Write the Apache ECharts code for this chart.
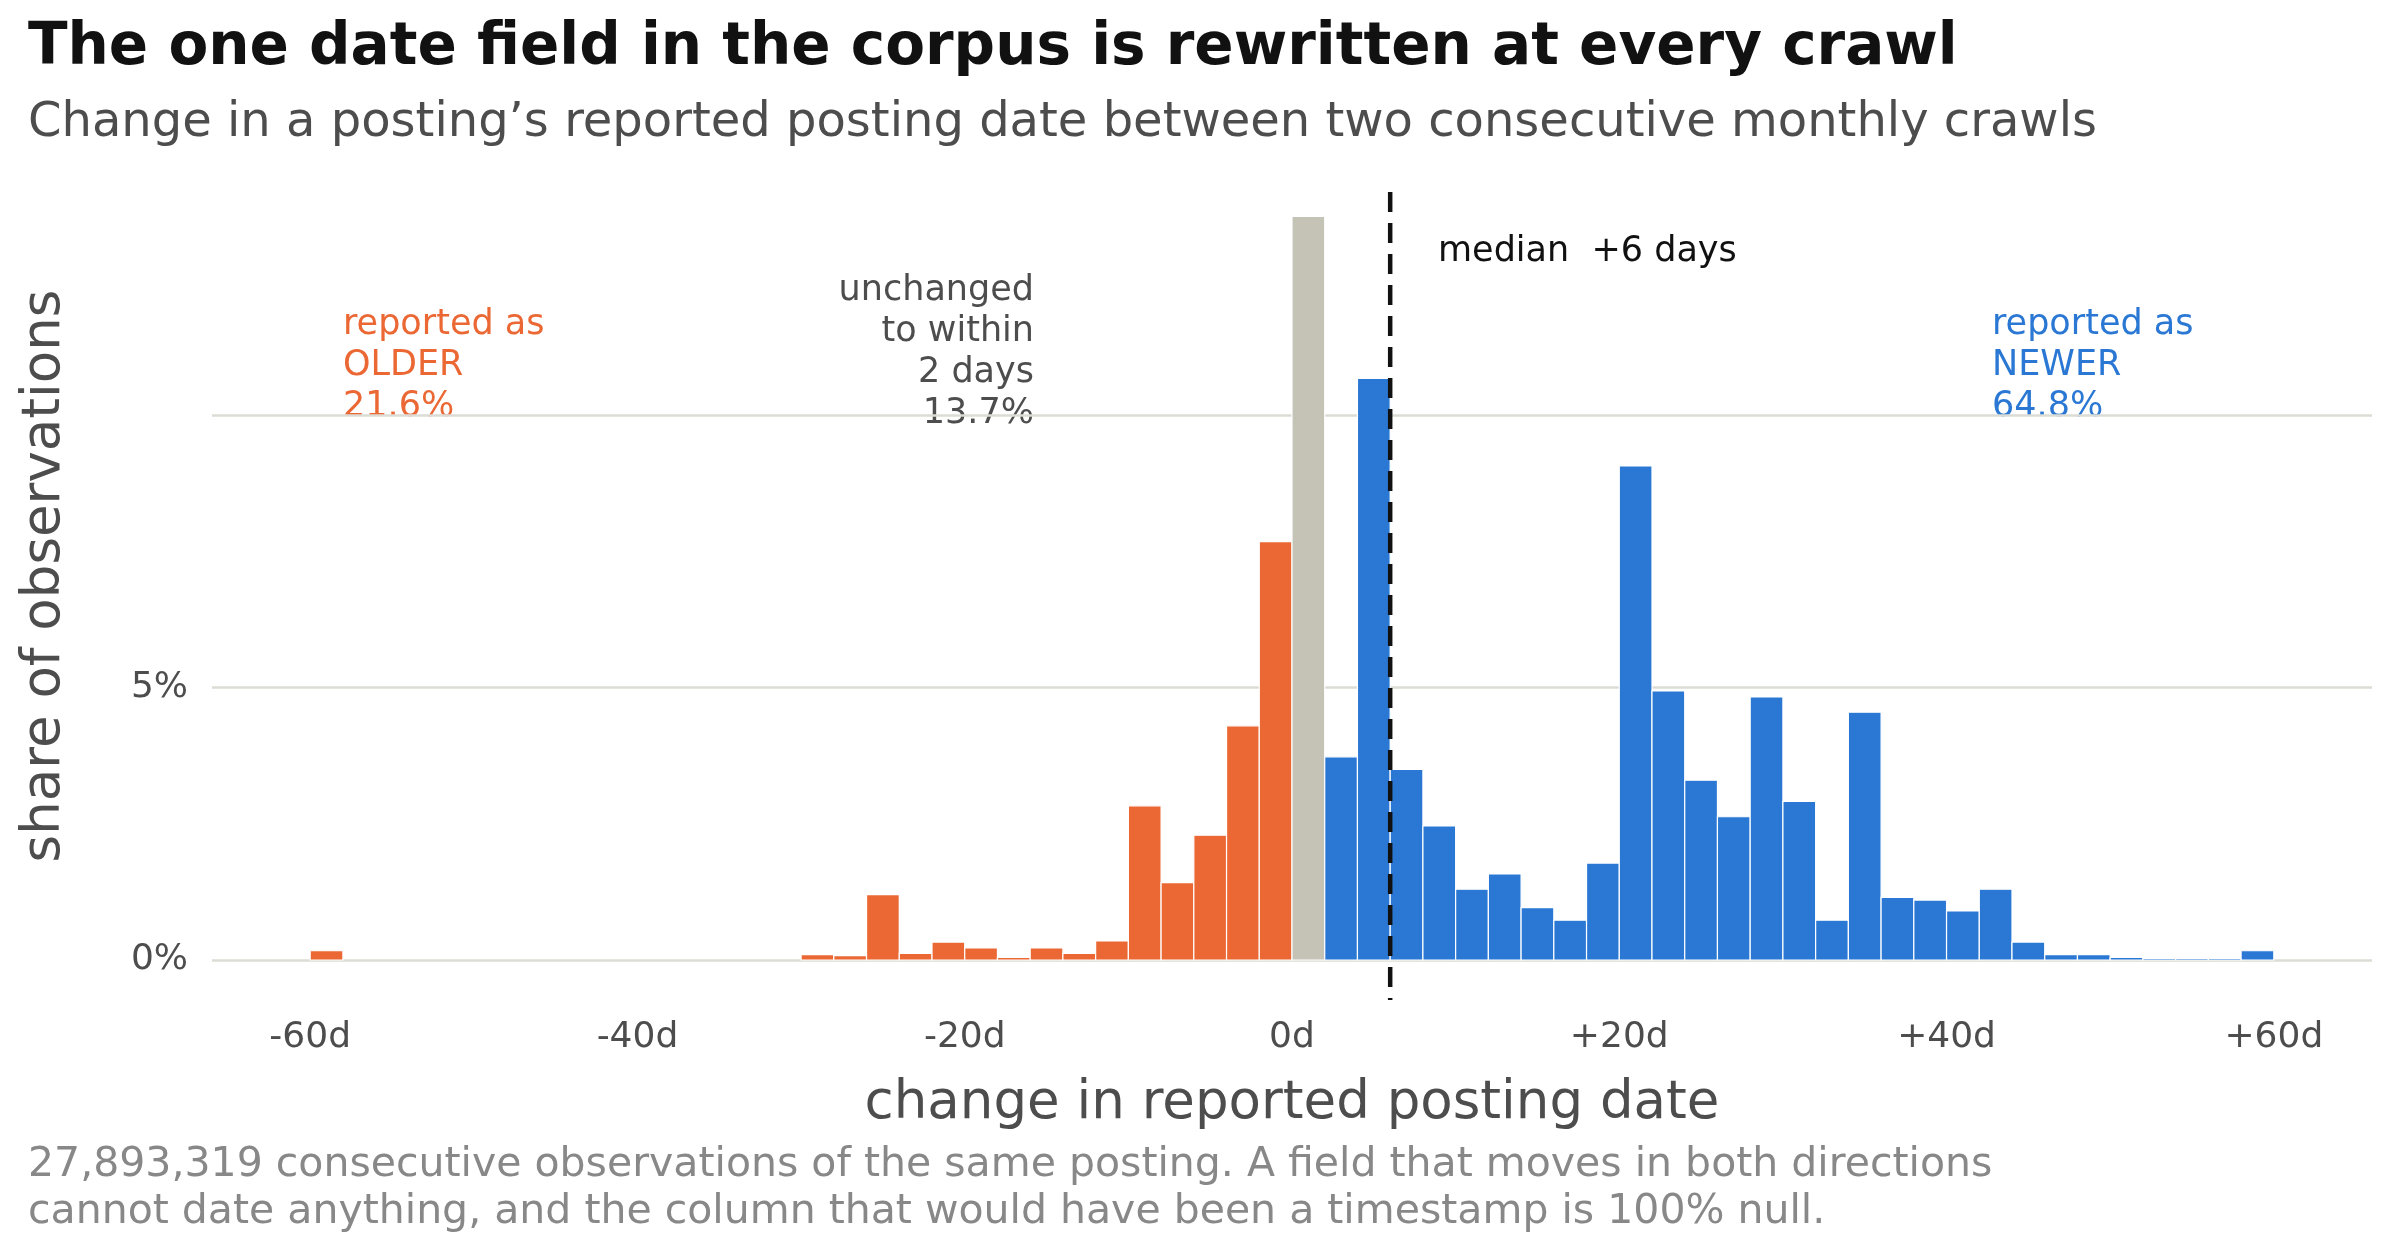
<!DOCTYPE html>
<html>
<head>
<meta charset="utf-8">
<script src="https://cdn.jsdelivr.net/npm/echarts@6/dist/echarts.min.js"></script>
<style>
  html, body { margin: 0; padding: 0; background: #fff; }
  #chart { width: 2400px; height: 1260px; }
</style>
</head>
<body>
<div id="chart"></div>
<script>
// bin starts (days), each bin 2 days wide
var olderStarts = [-60, -30, -28, -26, -24, -22, -20, -18, -16, -14, -12, -10, -8, -6, -4, -2];
var olderShare  = [0.17, 0.1, 0.08, 1.2, 0.12, 0.33, 0.22, 0.05, 0.22, 0.12, 0.35, 2.83, 1.42, 2.29, 4.3, 7.68];
var sameStarts = [0];
var sameShare  = [13.65];
var newerStarts = [2, 4, 6, 8, 10, 12, 14, 16, 18, 20, 22, 24, 26, 28, 30, 32, 34, 36, 38, 40, 42, 44, 46, 48, 50, 52, 54, 56, 58];
var newerShare  = [3.73, 10.68, 3.5, 2.46, 1.3, 1.58, 0.96, 0.73, 1.78, 9.07, 4.94, 3.3, 2.63, 4.83, 2.91, 0.73, 4.55, 1.15, 1.1, 0.9, 1.3, 0.33, 0.1, 0.1, 0.05, 0.03, 0.03, 0.03, 0.17];
var binWidth = 2;
var medianDays = 6;
var xTicks = [-60, -40, -20, 0, 20, 40, 60];
var yTicks = [0, 5, 10];

var GREY_TEXT = '#4d4d4d';
var FONT = 'DejaVu Sans';

function pairs(starts, vals) {
    var out = [];
    for (var i = 0; i < starts.length; i++) out.push([starts[i], vals[i]]);
    return out;
}

function renderBar(params, api) {
    var x0 = api.value(0);
    var v = api.value(1);
    var p0 = api.coord([x0, v]);
    var p1 = api.coord([x0 + binWidth, 0]);
    return {
        type: 'rect',
        shape: { x: p0[0], y: p0[1], width: p1[0] - p0[0], height: p1[1] - p0[1] },
        style: { fill: api.visual('color'), stroke: '#fff', lineWidth: 1.2 }
    };
}

function barSeries(name, starts, vals, color) {
    return {
        name: name,
        type: 'custom',
        renderItem: renderBar,
        itemStyle: { color: color },
        encode: { x: 0, y: 1 },
        data: pairs(starts, vals),
        silent: true
    };
}

var chart = echarts.init(document.getElementById('chart'));
var option = {
    backgroundColor: '#fff',
    animation: false,
    textStyle: { fontFamily: FONT },
    grid: { left: 212, right: 28, top: 192, bottom: 300 },
    xAxis: {
        type: 'value', min: -66, max: 66, interval: 20,
        axisLine: { show: false }, axisTick: { show: false }, splitLine: { show: false },
        axisLabel: {
            margin: 60, fontSize: 36, color: GREY_TEXT, fontFamily: FONT,
            customValues: xTicks,
            formatter: function (v) { return v > 0 ? '+' + v + 'd' : v + 'd'; }
        },
        name: 'change in reported posting date', nameLocation: 'middle', nameGap: 118,
        nameTextStyle: { fontSize: 53, color: GREY_TEXT, fontFamily: FONT }
    },
    yAxis: {
        type: 'value', min: 0, max: 14.1, interval: 5,
        axisLine: { show: false }, axisTick: { show: false },
        splitLine: { showMaxLine: false, lineStyle: { color: '#dcdcd6', width: 2.5 } },
        axisLabel: { fontSize: 36, color: GREY_TEXT, margin: 24, fontFamily: FONT,
            customValues: yTicks, showMaxLabel: false,
            formatter: function (v) { return v + '%'; } },
        name: 'share of observations', nameLocation: 'middle', nameGap: 140,
        nameTextStyle: { fontSize: 53, color: GREY_TEXT, fontFamily: FONT }
    },
    series: [
        barSeries('older', olderStarts, olderShare, '#eb6834'),
        barSeries('same', sameStarts, sameShare, '#c4c3b6'),
        barSeries('newer', newerStarts, newerShare, '#2a78d4'),
        {
            type: 'custom', silent: true, z: 10,
            data: [[medianDays]],
            encode: { x: 0 },
            renderItem: function (params, api) {
                var top = api.coord([api.value(0), 14.1]);
                var bot = api.coord([api.value(0), 0]);
                return {
                    type: 'line',
                    shape: { x1: top[0], y1: top[1], x2: bot[0], y2: bot[1] + 40 },
                    style: { stroke: '#111', lineWidth: 4.5, lineDash: [20, 11] }
                };
            }
        }
    ],
    graphic: [
        { type: 'text', left: 28, top: 20, style: { text: 'The one date field in the corpus is rewritten at every crawl',
            font: 'bold 58px "DejaVu Sans"', fill: '#111' } },
        { type: 'text', left: 28, top: 100, style: { text: 'Change in a posting\u2019s reported posting date between two consecutive monthly crawls',
            font: '48px "DejaVu Sans"', fill: GREY_TEXT } },
        { type: 'text', left: 343, top: 304, style: { text: 'reported as\nOLDER\n21.6%',
            font: '35px "DejaVu Sans"', fill: '#eb6834', lineHeight: 41 } },
        { type: 'text', x: 1034, y: 270, style: { text: 'unchanged\nto within\n2 days\n13.7%',
            font: '35px "DejaVu Sans"', fill: GREY_TEXT, lineHeight: 41, align: 'right', textAlign: 'right' } },
        { type: 'text', left: 1438, top: 234, style: { text: 'median  +6 days',
            font: '35px "DejaVu Sans"', fill: '#111' } },
        { type: 'text', left: 1992, top: 304, style: { text: 'reported as\nNEWER\n64.8%',
            font: '35px "DejaVu Sans"', fill: '#2a78d4', lineHeight: 41 } },
        { type: 'text', left: 28, top: 1142, style: {
            text: '27,893,319 consecutive observations of the same posting. A field that moves in both directions\ncannot date anything, and the column that would have been a timestamp is 100% null.',
            font: '41px "DejaVu Sans"', fill: '#888', lineHeight: 47 } }
    ]
};
chart.setOption(option);
</script>
</body>
</html>
